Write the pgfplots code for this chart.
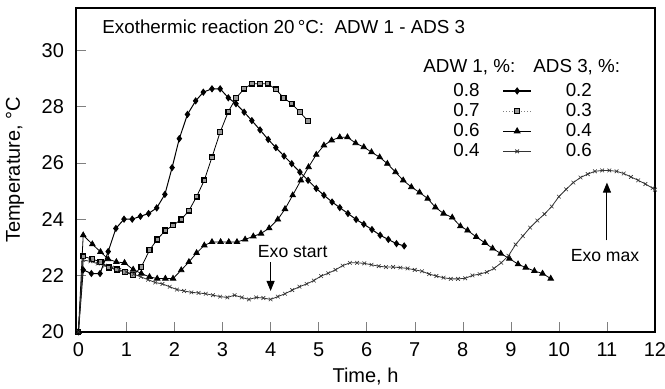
\documentclass[border=0pt]{standalone}
\usepackage{pgfplots}
\pgfplotsset{compat=1.18}
\usepackage{fontspec}
\setmainfont{Liberation Sans}
\usetikzlibrary{arrows.meta}
\begin{document}
\begin{tikzpicture}
\begin{axis}[
  name=ax,
  scale only axis,
  width=289.5pt, height=161.9pt,
  xmin=-0.05, xmax=12, ymin=20, ymax=31.5,
  xtick={0,1,...,12}, ytick={20,22,...,30},
  tick pos=left, tick align=inside,
  major tick length=5pt,
  axis line style={line width=0.9pt},
  /pgf/number format/assume math mode=true,
  tick label style={font=\fontsize{10}{12}\selectfont},
  xticklabel style={yshift=-2pt},
  yticklabel style={xshift=-2.5pt},
  legend columns=3,
  legend cell align=left,
  legend image code/.code={\path (0pt,0pt); \draw[mark repeat=2,mark phase=2,#1] plot coordinates {(1pt,0pt) (8pt,0pt) (15pt,0pt)};},
  legend style={draw=none, fill=none, inner sep=0pt, font=\fontsize{9.4}{10.5}\selectfont,
    nodes={inner sep=1pt},
    at={(rel axis cs:0.6477,0.776)}, anchor=north west,
    row sep=0pt,
    /tikz/column 2/.style={column sep=9.5pt},
    /tikz/column 3/.style={column sep=0pt},
    /tikz/column 4/.style={column sep=0pt},
    /tikz/column 5/.style={column sep=14pt}},
]
\addlegendimage{empty legend}\addlegendentry{0.8}
\addlegendimage{black, line width=0.6pt, mark=diamond*, mark size=1.4pt}\addlegendentry{}
\addlegendimage{empty legend}\addlegendentry{0.2}
\addlegendimage{empty legend}\addlegendentry{0.7}
\addlegendimage{gray, densely dotted, line width=0.5pt, mark=square*, mark size=1.2pt, mark options={solid, draw=black, fill=black!40}}\addlegendentry{}
\addlegendimage{empty legend}\addlegendentry{0.3}
\addlegendimage{empty legend}\addlegendentry{0.6}
\addlegendimage{black, line width=0.5pt, mark=triangle*, mark size=1.6pt}\addlegendentry{}
\addlegendimage{empty legend}\addlegendentry{0.4}
\addlegendimage{empty legend}\addlegendentry{0.4}
\addlegendimage{black!80, line width=0.4pt, mark=x, mark size=1.3pt}\addlegendentry{}
\addlegendimage{empty legend}\addlegendentry{0.6}

% ADW 0.8 / ADS 0.2
\addplot[forget plot, black, line width=0.5pt, mark=diamond*, mark size=1.45pt] coordinates {
(0,20) (0.1,22.2) (0.27,22.07) (0.45,22.07) (0.62,22.85) (0.78,23.67) (0.95,24.0) (1.12,24.0) (1.29,24.1) (1.46,24.2) (1.63,24.4) (1.8,24.88) (1.95,25.83) (2.1,26.86) (2.27,27.72) (2.44,28.2) (2.6,28.51) (2.78,28.63) (2.95,28.63) (3.12,28.31) (3.28,28.1) (3.45,27.8) (3.61,27.5) (3.78,27.17) (3.95,26.83) (4.11,26.54) (4.28,26.24) (4.44,25.97) (4.61,25.67) (4.78,25.38) (4.95,25.09) (5.11,24.85) (5.28,24.61) (5.44,24.41) (5.61,24.2) (5.78,23.99) (5.94,23.82) (6.11,23.63) (6.28,23.43) (6.45,23.28) (6.62,23.13) (6.78,23.05)
};
% ADW 0.7 / ADS 0.3
\addplot[forget plot, black, line width=0.4pt, mark=square*, mark size=1.2pt, mark options={draw=black, fill=black!40, line width=0.7pt}] coordinates {
(0,20) (0.1,22.68) (0.29,22.58) (0.46,22.48) (0.63,22.28) (0.8,22.21) (0.97,22.13) (1.14,22.01) (1.31,22.3) (1.48,22.9) (1.64,23.28) (1.81,23.6) (1.97,23.78) (2.14,23.99) (2.3,24.3) (2.46,24.8) (2.62,25.38) (2.78,26.2) (2.95,27.09) (3.12,27.82) (3.28,28.3) (3.45,28.63) (3.61,28.81) (3.78,28.81) (3.94,28.81) (4.11,28.61) (4.27,28.31) (4.44,28.1) (4.61,27.8) (4.78,27.48)
};
% ADW 0.6 / ADS 0.4
\addplot[forget plot, black, line width=0.4pt, mark=triangle*, mark size=1.6pt] coordinates {
(0,20) (0.1,23.43) (0.29,23.11) (0.46,22.84) (0.62,22.58) (0.79,22.48) (0.96,22.45) (1.14,22.21) (1.31,22.07) (1.48,21.95) (1.64,21.89) (1.81,21.89) (1.97,21.89) (2.14,22.19) (2.3,22.48) (2.46,22.8) (2.62,23.07) (2.78,23.19) (2.96,23.19) (3.13,23.19) (3.3,23.19) (3.47,23.28) (3.64,23.39) (3.8,23.49) (3.97,23.68) (4.15,23.99) (4.3,24.36) (4.46,24.85) (4.63,25.38) (4.79,25.85) (4.95,26.29) (5.11,26.62) (5.27,26.8) (5.44,26.91) (5.6,26.91) (5.77,26.7) (5.94,26.56) (6.1,26.38) (6.27,26.2) (6.43,25.97) (6.6,25.67) (6.76,25.38) (6.93,25.14) (7.1,24.95) (7.27,24.73) (7.43,24.42) (7.6,24.2) (7.78,24.06) (7.95,23.75) (8.1,23.6) (8.28,23.37) (8.46,23.16) (8.62,22.96) (8.79,22.78) (8.97,22.6) (9.15,22.4) (9.31,22.28) (9.49,22.16) (9.66,22.07) (9.83,21.89)
};
% ADW 0.4 / ADS 0.6
\addplot[forget plot, black!80, line width=0.4pt, mark=x, mark size=1.3pt, mark options={line width=0.3pt}] coordinates {
(0,20) (0.1,22.55) (0.25,22.5) (0.4,22.42) (0.55,22.35) (0.7,22.28) (0.85,22.2) (1.0,22.12) (1.15,22.05) (1.3,21.95) (1.45,21.85) (1.6,21.75) (1.75,21.7) (1.9,21.6) (2.05,21.5) (2.2,21.45) (2.35,21.4) (2.5,21.38) (2.65,21.35) (2.8,21.3) (2.95,21.25) (3.1,21.22) (3.25,21.3) (3.4,21.22) (3.55,21.15) (3.7,21.22) (3.85,21.2) (4.0,21.15) (4.15,21.25) (4.3,21.35) (4.45,21.48) (4.6,21.6) (4.75,21.7) (4.9,21.82) (5.05,21.98) (5.2,22.08) (5.35,22.2) (5.5,22.35) (5.65,22.45) (5.8,22.45) (5.95,22.43) (6.1,22.38) (6.25,22.33) (6.4,22.3) (6.55,22.3) (6.7,22.28) (6.85,22.25) (7.0,22.2) (7.15,22.15) (7.3,22.05) (7.45,21.98) (7.6,21.92) (7.75,21.88) (7.9,21.88) (8.05,21.9) (8.2,22.0) (8.35,22.05) (8.5,22.12) (8.65,22.25) (8.8,22.45) (8.95,22.7) (9.1,23.1) (9.25,23.4) (9.4,23.7) (9.55,23.95) (9.7,24.18) (9.85,24.45) (10.0,24.8) (10.15,25.06) (10.3,25.3) (10.45,25.48) (10.6,25.6) (10.75,25.7) (10.9,25.73) (11.05,25.73) (11.2,25.7) (11.35,25.62) (11.5,25.5) (11.65,25.38) (11.8,25.25) (11.95,25.1) (12.0,25.05)
};

\node[font=\fontsize{8.8}{10}\selectfont] at (axis cs:4.46,22.84) {Exo start};
\draw[-{Triangle[length=5pt,width=4pt]}, line width=0.5pt] (axis cs:4,22.47) -- (axis cs:4,21.45);
\node[font=\fontsize{8.8}{10}\selectfont] at (axis cs:10.96,22.7) {Exo max};
\draw[-{Triangle[length=5pt,width=4pt]}, line width=0.5pt] (axis cs:11,23.25) -- (axis cs:11,25.3);
\end{axis}
\node[anchor=west, inner sep=0pt, font=\fontsize{9.4}{11}\selectfont] at ([xshift=13pt,yshift=-9.5pt]ax.north west) {Exothermic reaction 20\,°C:\ \ ADW 1 - ADS 3};
\node[anchor=west, inner sep=0pt, font=\fontsize{9.4}{11}\selectfont] at ([xshift=173.5pt,yshift=-29.5pt]ax.north west) {ADW 1, \%:};
\node[anchor=west, inner sep=0pt, font=\fontsize{9.4}{11}\selectfont] at ([xshift=228.5pt,yshift=-29.5pt]ax.north west) {ADS 3, \%:};
\node[rotate=90, font=\fontsize{10}{12}\selectfont] at ([xshift=-30.5pt]ax.west) {Temperature, °C};
\node[font=\fontsize{10}{12}\selectfont] at ([yshift=-22.4pt]ax.south) {Time, h};
\pgfresetboundingbox
\path[use as bounding box] ([shift={(-38pt,-28.5pt)}]ax.south west) rectangle ([shift={(5pt,4pt)}]ax.north east);
\end{tikzpicture}
\end{document}
